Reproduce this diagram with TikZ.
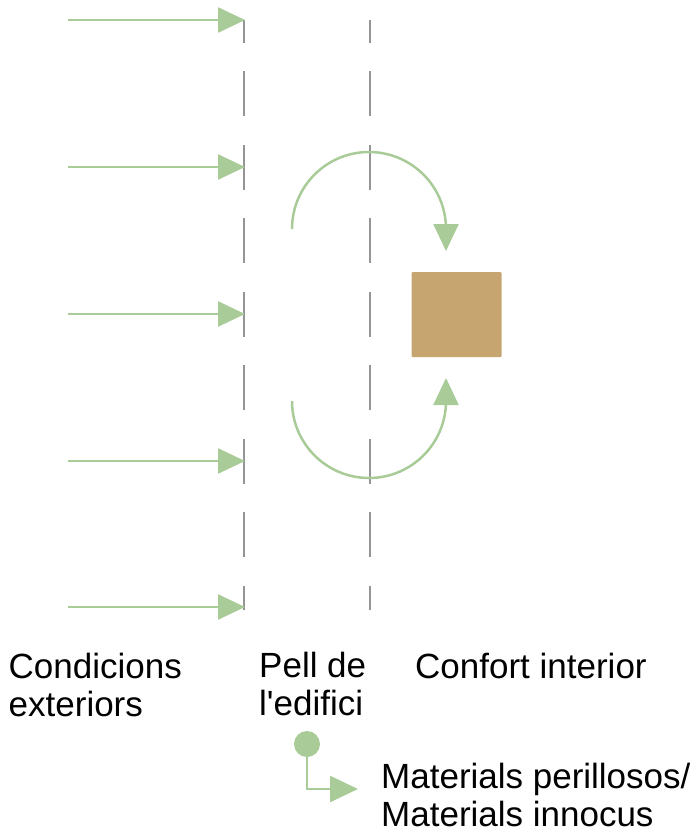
\documentclass[tikz,border=0pt]{standalone}
\usepackage{fontspec}
\setmainfont{Liberation Sans}
\usetikzlibrary{arrows.meta}
\definecolor{lgreen}{HTML}{A8CB98}
\definecolor{dgray}{HTML}{959595}
\definecolor{tan}{HTML}{C6A571}
\tikzset{
  flow/.style={draw=lgreen, line width=2.5pt, -{Triangle[length=27pt,width=25pt]}},
  skin/.style={draw=dgray, line width=2.2pt, dash pattern=on 45pt off 28.5pt, dash phase=22.5pt},
  label/.style={inner sep=0pt, anchor=north west, align=left, font=\fontsize{35}{38}\selectfont},
}
\begin{document}
\begin{tikzpicture}[x=1pt,y=-1pt]
\useasboundingbox (0,0) rectangle (689,831);
% building skin lines
\coordinate (s1t) at (244,20);
\coordinate (s1b) at (244,610);
\coordinate (s2t) at (370,20);
\coordinate (s2b) at (370,610);
\draw[skin] (s1t) -- (s1b);
\draw[skin] (s2t) -- (s2b);
% exterior condition arrows
\foreach \i/\y in {1/20,2/167,3/314,4/461,5/607}{
  \coordinate (a\i) at (68,\y);
  \coordinate (b\i) at (245,\y);
  \draw[flow] (a\i) -- (b\i);
}
% interior comfort
\node[fill=tan, minimum width=90pt, minimum height=85pt, inner sep=0pt, rounded corners=1pt] (box) at (456.5,314.5) {};
\coordinate (c1) at (292,229);
\coordinate (c1e) at (446,251);
\draw[flow] (c1) arc[start angle=180, end angle=360, radius=77] -- (c1e);
\coordinate (c2) at (292,401);
\coordinate (c2e) at (446,378);
\draw[flow] (c2) arc[start angle=180, end angle=0, radius=77] -- (c2e);
% labels
\node[label] (ext) at (8.5,652) {\rule{0pt}{26pt}Condicions\\exteriors};
\node[label] (pell) at (259,651) {\rule{0pt}{26pt}Pell de\\l\textquotesingle edifici};
\node[label] (conf) at (415,652) {\rule{0pt}{26pt}Confort interior};
\node[label] (mat) at (381,762) {\rule{0pt}{26pt}Materials perillosos/\\Materials innocus};
% materials connector
\node[circle, fill=lgreen, minimum size=26pt, inner sep=0pt] (dot) at (307,744) {};
\coordinate (mend) at (358,789);
\draw[flow, -{Triangle[length=28pt,width=26pt]}] (dot.south) |- (mend);
\end{tikzpicture}
\end{document}
